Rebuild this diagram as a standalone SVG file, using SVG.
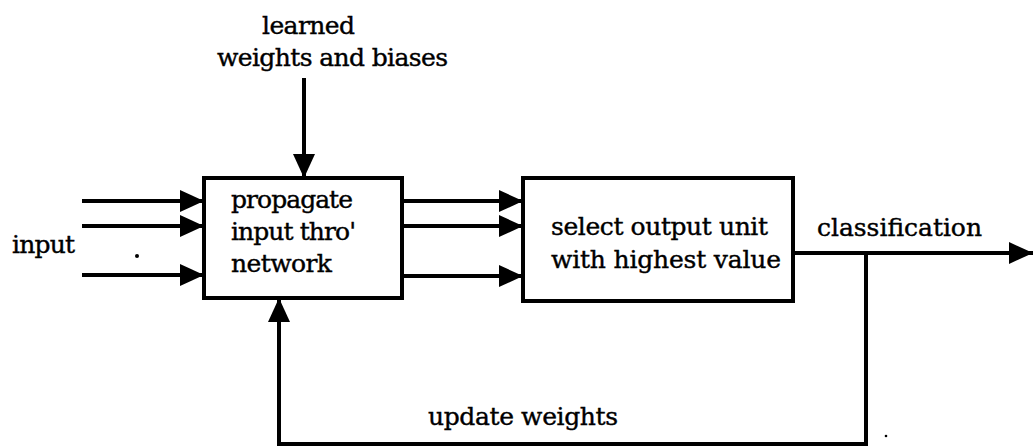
<svg xmlns="http://www.w3.org/2000/svg" width="1034" height="448" viewBox="0 0 1034 448">
<style>
.ln{stroke:#000;stroke-width:4;fill:none}
.bx{stroke:#000;stroke-width:4;fill:#fff}
.t{font-family:'DejaVu Serif','Liberation Serif',serif;font-size:25px;fill:#000;stroke:#000;stroke-width:0.4}
</style>
<defs>
<marker id="ah" markerUnits="userSpaceOnUse" markerWidth="26" markerHeight="22" refX="24" refY="11" orient="auto">
<path d="M0,0 L24,11 L0,22 Z" fill="#000"/>
</marker>
</defs>
<rect width="1034" height="448" fill="#fff"/>
<g id="connectors">
<path class="ln" d="M304,78 V178" marker-end="url(#ah)"/>
<path class="ln" d="M82,201 H204" marker-end="url(#ah)"/>
<path class="ln" d="M82,226 H204" marker-end="url(#ah)"/>
<path class="ln" d="M82,275 H204" marker-end="url(#ah)"/>
<path class="ln" d="M402,201 H523" marker-end="url(#ah)"/>
<path class="ln" d="M402,226 H523" marker-end="url(#ah)"/>
<path class="ln" d="M402,276 H523" marker-end="url(#ah)"/>
<path class="ln" d="M793,253 H1033" marker-end="url(#ah)"/>
<path class="ln" d="M866,253 V444 H279 V298" marker-end="url(#ah)"/>
</g>
<g id="propagate">
<rect class="bx" x="204" y="178" width="198" height="120"/>
<text class="t" x="231" y="208" textLength="122">propagate</text>
<text class="t" x="231" y="240" textLength="125">input thro'</text>
<text class="t" x="231" y="272" textLength="101">network</text>
</g>
<g id="select">
<rect class="bx" x="523" y="178" width="270" height="123"/>
<text class="t" x="551" y="235" textLength="217">select output unit</text>
<text class="t" x="551" y="268" textLength="230">with highest value</text>
</g>
<g id="labels">
<text class="t" x="262" y="34" textLength="93">learned</text>
<text class="t" x="217" y="66" textLength="231">weights and biases</text>
<text class="t" x="12" y="253" textLength="63">input</text>
<text class="t" x="817" y="236" textLength="165">classification</text>
<text class="t" x="428" y="425" textLength="190">update weights</text>
<circle cx="137" cy="256" r="2" fill="#000"/>
<circle cx="886" cy="436" r="1.3" fill="#000"/>
</g>
</svg>
